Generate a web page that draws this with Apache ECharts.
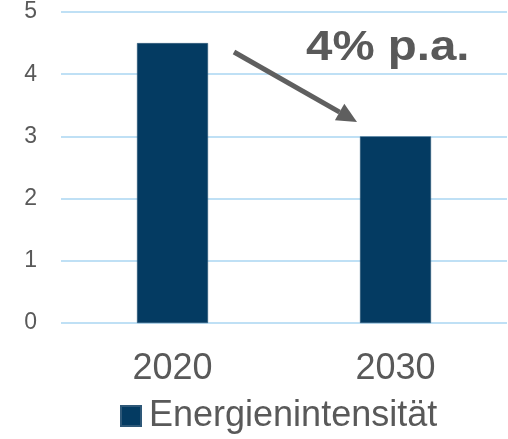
<!DOCTYPE html>
<html>
<head>
<meta charset="utf-8">
<script src="https://cdn.jsdelivr.net/npm/echarts@6/dist/echarts.min.js"></script>
<style>
  html, body { margin: 0; padding: 0; background: #fff; }
  #chart { width: 508px; height: 439px; }
</style>
</head>
<body>
<div id="chart"></div>
<script>
// Energy intensity, 2020 vs 2030
const categories = ['2020', '2030'];
const seriesName = 'Energienintensität';
const values = [4.5, 3.0];
const yTicks = [0, 1, 2, 3, 4, 5];
const annotation = '4% p.a.';

const FONT = '"Liberation Sans", Arial, sans-serif';
const GREY = '#595959';
const NAVY = '#043B62';

const chart = echarts.init(document.getElementById('chart'), null, { renderer: 'canvas' });

// arrow geometry (pixel space), tip pointing at the lower bar
const arrowStart = [234, 52];
const arrowTip = [357, 122];
const dx = arrowTip[0] - arrowStart[0], dy = arrowTip[1] - arrowStart[1];
const len = Math.hypot(dx, dy);
const ux = dx / len, uy = dy / len;
const headLen = 20, headHalf = 9.5;
const base = [arrowTip[0] - ux * headLen, arrowTip[1] - uy * headLen];
const head = [
  arrowTip,
  [base[0] - uy * headHalf, base[1] + ux * headHalf],
  [base[0] + uy * headHalf, base[1] - ux * headHalf]
];

chart.setOption({
  animation: false,
  grid: { left: 61, right: 1, top: 12, bottom: 116, containLabel: false },
  legend: {
    data: [seriesName],
    left: 115,
    top: 393,
    icon: 'rect',
    itemWidth: 20,
    itemHeight: 20,
    textStyle: { fontFamily: FONT, fontSize: 36, color: GREY, padding: [0, 0, 0, 3] }
  },
  xAxis: {
    type: 'category',
    data: categories,
    axisLine: { show: false },
    axisTick: { show: false },
    axisLabel: { fontFamily: FONT, fontSize: 36, color: GREY, margin: 28 }
  },
  yAxis: {
    type: 'value',
    min: yTicks[0],
    max: yTicks[yTicks.length - 1],
    interval: 1,
    axisLine: { show: false },
    axisTick: { show: false },
    axisLabel: { fontFamily: FONT, fontSize: 23, color: GREY, margin: 24 },
    splitLine: { lineStyle: { color: '#BFE0F5', width: 2 } }
  },
  series: [{
    name: seriesName,
    type: 'bar',
    data: values,
    barWidth: 71,
    itemStyle: { color: NAVY, borderColor: '#2E5878', borderWidth: 0.5 }
  }],
  graphic: [
    {
      type: 'line',
      shape: { x1: arrowStart[0], y1: arrowStart[1], x2: base[0], y2: base[1] },
      style: { stroke: '#5F5F5F', lineWidth: 5 },
      z: 10
    },
    {
      type: 'polygon',
      shape: { points: head },
      style: { fill: '#5F5F5F' },
      z: 10
    },
    {
      type: 'text',
      x: 306,
      y: 48,
      scaleX: 1.13,
      style: {
        text: annotation,
        x: 0,
        y: 0,
        font: 'bold 42px ' + FONT,
        fill: GREY,
        textAlign: 'left',
        textVerticalAlign: 'middle'
      },
      z: 10
    }
  ]
});
</script>
</body>
</html>
